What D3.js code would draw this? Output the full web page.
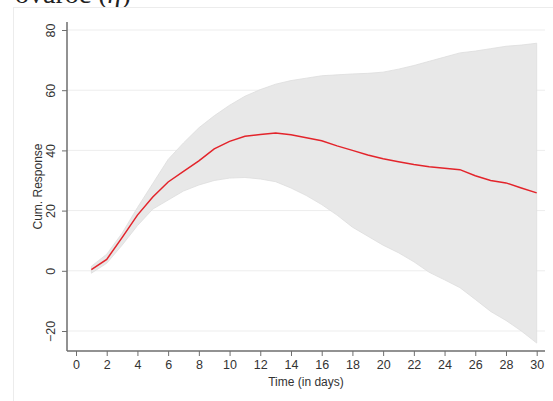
<!DOCTYPE html>
<html><head><meta charset="utf-8">
<script src="https://cdn.jsdelivr.net/npm/d3@7"></script>
<style>html,body{margin:0;padding:0;background:#fff;overflow:hidden}</style>
</head><body><svg id="c" width="553" height="401"></svg>
<script>
const days = d3.range(1, 31);
const response = [0.4,3.8,11,18.5,24.5,29.5,33,36.5,40.5,43,44.7,45.3,45.8,45.2,44.2,43.2,41.5,40,38.5,37.2,36.2,35.3,34.6,34.1,33.6,31.6,30,29.2,27.5,25.9];
const lower = [-0.8,2.5,8.5,15,20.5,23.5,26.5,28.5,30,30.8,31,30.5,29.6,27.5,25,22,18.5,14.5,11.5,8.5,6,3,-0.5,-3,-5.6,-9.5,-13.5,-16.5,-20,-24];
const upper = [1.5,5.5,12.5,21,29,37,42.5,47.5,51.5,55,58,60.2,62,63.2,64,64.8,65.1,65.4,65.6,66,67,68.2,69.6,71,72.4,73,73.8,74.6,75,75.6];
const xTicks = d3.range(0, 31, 2);
const yTicks = [-20, 0, 20, 40, 60, 80];

const svg = d3.select("#c");
const font = "'Liberation Sans', Arial, sans-serif";

// clipped caption fragment at top
const cap = svg.append("text").attr("x", 15).attr("y", 3)
  .attr("font-family", "'Liberation Serif', 'Times New Roman', serif")
  .attr("font-size", 28).attr("fill", "#222");
cap.append("tspan").text("ovaroc (");
cap.append("tspan").attr("font-style", "italic").text("η");
cap.append("tspan").text(")");

// outer graph region
svg.append("rect").attr("x", 13.5).attr("y", 7.5).attr("width", 560).attr("height", 420)
  .attr("fill", "#fff").attr("stroke", "#ececec");

const x = d3.scaleLinear().domain([0, 30]).range([76, 536.7]);
const y = d3.scaleLinear().domain([-20, 80]).range([331, 30]);
const plotL = 67, plotR = 545, plotT = 22, plotB = 351;

// gridlines
svg.append("g").selectAll("line").data(yTicks).join("line")
  .attr("x1", plotL).attr("x2", plotR)
  .attr("y1", d => y(d)).attr("y2", d => y(d))
  .attr("stroke", "#ededed").attr("stroke-width", 1);

// band
const area = d3.area().x((d, i) => x(days[i])).y0((d, i) => y(lower[i])).y1((d, i) => y(upper[i]));
svg.append("path").datum(days).attr("d", area)
  .attr("fill", "#e8e8e8").attr("stroke", "#dddddd").attr("stroke-width", 0.8);

// response line
const line = d3.line().x((d, i) => x(days[i])).y(d => y(d));
svg.append("path").datum(response).attr("d", line)
  .attr("fill", "none").attr("stroke", "#e3242b").attr("stroke-width", 1.5);

// axes
const axisColor = "#6e6e6e";
const gx = svg.append("g").attr("transform", `translate(0,${plotB})`)
  .call(d3.axisBottom(x).tickValues(xTicks).tickSize(5).tickPadding(4));
gx.select(".domain").remove();
gx.selectAll(".tick line").attr("stroke", axisColor);
gx.selectAll(".tick text").attr("font-family", font).attr("font-size", 12.5).attr("fill", "#333");

const gy = svg.append("g").attr("transform", `translate(${plotL},0)`)
  .call(d3.axisLeft(y).tickValues(yTicks).tickSize(5).tickPadding(0));
gy.select(".domain").remove();
gy.selectAll(".tick line").attr("stroke", axisColor);
gy.selectAll(".tick text").attr("font-family", font).attr("font-size", 12.5).attr("fill", "#333")
  .attr("x", 0).attr("y", 0).attr("dy", "0.35em").attr("text-anchor", "middle")
  .attr("transform", "translate(-16,0) rotate(-90)");

svg.append("line").attr("x1", plotL).attr("x2", plotL).attr("y1", plotT).attr("y2", plotB)
  .attr("stroke", axisColor).attr("stroke-width", 1.5);
svg.append("line").attr("x1", plotL).attr("x2", plotR).attr("y1", plotB).attr("y2", plotB)
  .attr("stroke", axisColor).attr("stroke-width", 1.5);

// titles
svg.append("text").attr("x", (plotL + plotR) / 2).attr("y", 386)
  .attr("text-anchor", "middle").attr("font-family", font).attr("font-size", 12).attr("fill", "#333")
  .text("Time (in days)");
svg.append("text").attr("transform", `translate(42,${(plotT + plotB) / 2}) rotate(-90)`)
  .attr("text-anchor", "middle").attr("font-family", font).attr("font-size", 12).attr("fill", "#333")
  .text("Cum. Response");
</script></body></html>
